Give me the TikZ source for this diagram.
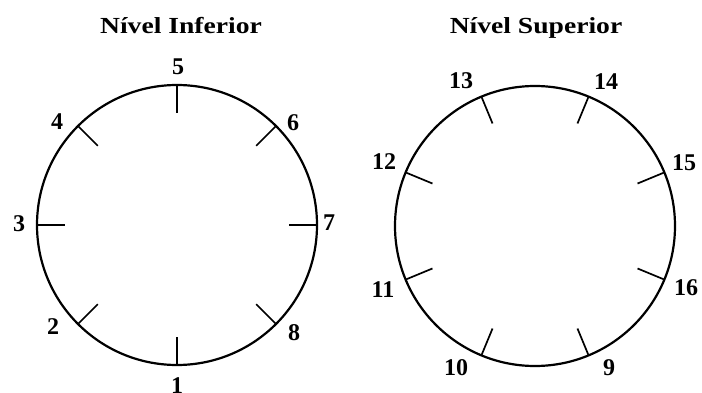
\documentclass[tikz,border=0pt]{standalone}
\usepackage{fontspec}
\usepackage{graphicx}
\setmainfont{Liberation Serif}
\usetikzlibrary{calc}
\begin{document}
\begin{tikzpicture}[x=1pt,y=1pt,
  ring/.style={line width=2.2pt},
  tickmark/.style={line width=1.7pt},
  num/.style={font=\fontsize{24}{24}\selectfont\bfseries, inner sep=0pt},
  ttl/.style={font=\fontsize{23}{23}\selectfont\bfseries, inner sep=0pt, anchor=base}]
\useasboundingbox (0,0) rectangle (702,392);
% left clock
\coordinate (L) at (177,167);
\draw[ring] (L) circle[radius=140];
\foreach \a/\w in {90/2,135/1.7,180/2.8,225/1.7,270/2,315/1.7,0/2.8,45/1.7}{
  \draw[line width=\w pt] ($(L)+(\a:140)$) -- ($(L)+(\a:112)$);
}
\node[ttl] (tl) at (181,358) {\scalebox{1.2}[1]{Nível Inferior}};
\node[num] (n5) at (178,325) {5};
\node[num] (n4) at (57,270) {4};
\node[num] (n6) at (293,269) {6};
\node[num] (n3) at (19,168) {3};
\node[num] (n7) at (329,169) {7};
\node[num] (n2) at (53,65) {2};
\node[num] (n8) at (294,59) {8};
\node[num] (n1) at (177,6) {1};
% right clock
\coordinate (R) at (535,166);
\draw[ring] (R) circle[radius=140];
\foreach \a in {22.5,67.5,112.5,157.5,202.5,247.5,292.5,337.5}{
  \draw[tickmark] ($(R)+(\a:140)$) -- ($(R)+(\a:111)$);
}
\node[ttl] (tr) at (536,358) {\scalebox{1.2}[1]{Nível Superior}};
\node[num] (n13) at (461,311) {13};
\node[num] (n14) at (606,310) {14};
\node[num] (n15) at (684,229) {15};
\node[num] (n16) at (686,104) {16};
\node[num] (n9) at (609,24) {9};
\node[num] (n10) at (456,24) {10};
\node[num] (n11) at (383,102) {11};
\node[num] (n12) at (384,230) {12};
\end{tikzpicture}
\end{document}
